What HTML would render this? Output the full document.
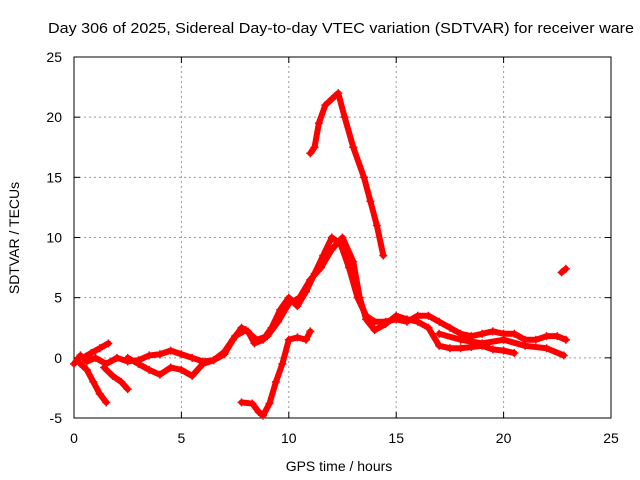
<!DOCTYPE html>
<html><head><meta charset="utf-8"><style>
body{margin:0;background:#fff;}
svg{display:block;font-family:"Liberation Sans",sans-serif;}
</style></head><body>
<svg id="chart" width="640" height="480" viewBox="0 0 640 480">
<text x="48" y="33" font-size="15" textLength="586" lengthAdjust="spacingAndGlyphs" fill="#000">Day 306 of 2025, Sidereal Day-to-day VTEC variation (SDTVAR) for receiver ware</text>
<g id="grid"></g><g id="axes"></g><g id="marks"></g>
<text x="339" y="471" font-size="14" text-anchor="middle">GPS time / hours</text>
<text transform="translate(19,238) rotate(-90)" font-size="14" text-anchor="middle">SDTVAR / TECUs</text>
</svg>
<script>
const xTicks=[0,5,10,15,20,25];
const yTicks=[-5,0,5,10,15,20,25];
const seriesBase=[[0,-0.5],[0.3,0.2],[0.6,-0.3],[1,0],[1.5,-0.5],[2,0],[2.5,-0.3],[3,-0.2],[3.5,0.2],[4,0.3],[4.5,0.6],[5,0.3],[5.5,0],[6,-0.3],[6.5,-0.2],[7,0.3],[7.4,1.5],[7.8,2.5],[8.1,2.2],[8.4,1.2],[8.8,1.5],[9.2,2.5],[9.6,4],[10,5],[10.4,4.3],[10.8,5.5],[11.2,7],[11.6,8.5],[12,10],[12.4,9.5],[12.8,7.5],[13.2,5],[13.6,3.5],[14,3],[14.5,3],[15,3.2],[15.5,3],[16,3.5],[16.5,3.5],[17,3],[17.5,2.5],[18,2],[18.5,1.8],[19,2],[19.5,2.2],[20,2],[20.5,2],[21,1.5],[21.5,1.5],[22,1.8],[22.5,1.8],[22.9,1.5]];
const seriesLow1=[[0.3,-0.5],[0.6,-1],[0.9,-2],[1.2,-3],[1.5,-3.7]];
const seriesLow2=[[1.4,-0.8],[1.8,-1.5],[2.2,-2],[2.5,-2.6]];
const seriesUp1=[[0.4,0],[0.8,0.4],[1.2,0.8],[1.6,1.2]];
const seriesMid=[[2.5,0],[3,-0.5],[3.5,-1],[4,-1.4],[4.5,-0.8],[5,-1],[5.5,-1.5],[6,-0.5],[6.5,-0.2],[7,0.5],[7.5,1.8],[8,2.3],[8.5,1.5],[9,1.8],[9.5,3],[10,4.5],[10.5,5],[11,6.5],[11.5,7.5],[12,9],[12.5,10],[13,8],[13.3,5],[13.6,3.2],[14,2.3],[14.5,2.8],[15,3.5],[15.5,3.2],[16,3],[16.5,2.5],[17,1],[17.5,0.8],[18,0.8],[18.5,0.9],[19,1],[19.5,0.7],[20,0.6],[20.5,0.4]];
const seriesLate=[[17,2],[18,1.5],[19,1.2],[20,1.5],[21,1],[22,0.8],[22.8,0.2]];
const seriesDip=[[7.8,-3.7],[8.3,-3.8],[8.6,-4.5],[8.8,-4.8],[9.1,-3.8],[9.4,-2],[9.7,-0.5],[10,1.5],[10.4,1.7],[10.8,1.5],[11,2.2]];
const seriesPeak=[[11,17],[11.2,17.5],[11.4,19.5],[11.7,21],[12,21.5],[12.3,22],[12.6,20],[13,17.5],[13.5,15],[13.8,13],[14.1,11],[14.4,8.5]];
const seriesLone=[[22.7,7.1],[22.9,7.4]];
const allSeries=[seriesBase,seriesLow1,seriesLow2,seriesUp1,seriesMid,seriesLate,seriesDip,seriesPeak,seriesLone];
const X0=74,X1=611,Y0=418,Y1=57;
const sx=v=>X0+(v-0)/25*(X1-X0);
const sy=v=>Y0-(v+5)/30*(Y0-Y1);
const NS="http://www.w3.org/2000/svg";
function mk(t,a,p){const e=document.createElementNS(NS,t);for(const k in a)e.setAttribute(k,a[k]);p.appendChild(e);return e;}
const grid=document.getElementById('grid'),axes=document.getElementById('axes'),marks=document.getElementById('marks');
xTicks.forEach(t=>{const x=sx(t);
 if(t>0&&t<25){const g=mk('line',{x1:x,x2:x,y1:Y0,y2:Y1,stroke:'#999','stroke-dasharray':'2,3','stroke-width':1},grid);
 
 }
 const l=mk('text',{x:x,y:Y0+25,'font-size':14,'text-anchor':'middle'},axes);l.textContent=t;
 
 
 mk('line',{x1:x,x2:x,y1:Y0,y2:Y0-6,stroke:'#000'},axes);mk('line',{x1:x,x2:x,y1:Y1,y2:Y1+6,stroke:'#000'},axes);});
yTicks.forEach(t=>{const y=sy(t);
 if(t>-5&&t<25){const g=mk('line',{x1:X0,x2:X1,y1:y,y2:y,stroke:'#999','stroke-dasharray':'2,3','stroke-width':1},grid);
 
 }
 const l=mk('text',{x:X0-12,y:y+5,'font-size':14,'text-anchor':'end'},axes);l.textContent=t;
 
 
 mk('line',{x1:X0,x2:X0+6,y1:y,y2:y,stroke:'#000'},axes);mk('line',{x1:X1,x2:X1-6,y1:y,y2:y,stroke:'#000'},axes);});
const fr=mk('rect',{x:X0,y:Y1,width:X1-X0,height:Y0-Y1,fill:'none',stroke:'#000'},axes);


allSeries.forEach(s=>{
 const pl=mk('polyline',{points:s.map(p=>sx(p[0])+','+sy(p[1])).join(' '),fill:'none',stroke:'#f00','stroke-width':6,'stroke-linejoin':'round','stroke-linecap':'round'},marks);
 
 
 s.forEach(p=>{const x=sx(p[0]),y=sy(p[1]);
  const m=mk('path',{d:`M${x-4},${y}H${x+4}M${x},${y-4}V${y+4}`,stroke:'#f00','stroke-width':1.5},marks);
  
  });
});
</script>
</body></html>
